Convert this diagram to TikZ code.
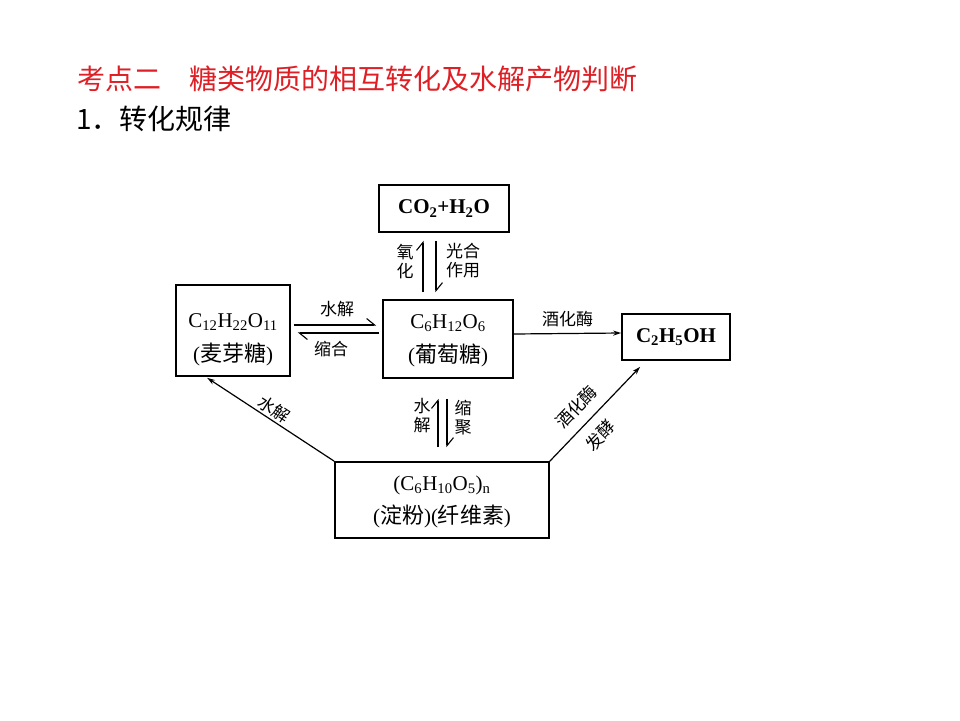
\documentclass[tikz,border=0pt]{standalone}
\usepackage{fontspec}
\setmainfont{Liberation Serif}
\newfontfamily\cjk{Noto Sans CJK SC}
\usetikzlibrary{arrows.meta,calc}
\definecolor{titlered}{RGB}{222,32,38}
\newcommand{\bigcjk}[1]{{\cjk\fontsize{22}{30}\selectfont #1}}
\newcommand{\lowtext}[2]{\raisebox{#1}[\height][\depth]{\begin{tabular}{@{}c@{}}#2\end{tabular}}}
\begin{document}
\begin{tikzpicture}[x=1pt,y=-1pt,
  box/.style={draw, line width=1.7pt, inner sep=0pt, align=center, font=\fontsize{21}{31}\selectfont},
  lab/.style={font=\cjk\fontsize{17}{19}\selectfont, inner sep=1pt, align=center},
  harp/.style={line width=1.3pt, -{Straight Barb[harpoon,length=8pt,width=13pt,line width=1.1pt]}},
  conn/.style={line width=1.2pt, -{Stealth[length=8pt,width=5pt]}},
  head/.style={font=\cjk\fontsize{28}{30}\selectfont, inner sep=0pt, anchor=west}
]
\useasboundingbox (0,0) rectangle (960,720);

\node[head, text=titlered] (title) at (77,79) {考点二　糖类物质的相互转化及水解产物判断};
\node[head] (sub) at (76,119) {1．转化规律};

\node[box, minimum width=130pt, minimum height=47pt] (co2) at (444,208.5)
  {\textbf{CO\textsubscript{2}+H\textsubscript{2}O}};
\node[box, minimum width=114pt, minimum height=91pt] (malt) at (233,330.5)
  {\lowtext{-8pt}{C\textsubscript{12}H\textsubscript{22}O\textsubscript{11}\\[3pt](\bigcjk{麦芽糖})}};
\node[box, minimum width=130pt, minimum height=78pt] (gluc) at (448,339)
  {\lowtext{0pt}{C\textsubscript{6}H\textsubscript{12}O\textsubscript{6}\\[3pt](\bigcjk{葡萄糖})}};
\node[box, minimum width=108pt, minimum height=46pt] (eth) at (676,337)
  {\textbf{C\textsubscript{2}H\textsubscript{5}OH}};
\node[box, minimum width=214pt, minimum height=76pt] (starch) at (442,500)
  {\lowtext{-1pt}{(C\textsubscript{6}H\textsubscript{10}O\textsubscript{5})\textsubscript{n}\\[2pt](\bigcjk{淀粉})(\bigcjk{纤维素})}};

% CO2 <-> glucose
\draw[harp] ($(gluc.north)+(-25,-7)$) -- ($(co2.south)+(-21,8)$);
\draw[harp] ($(co2.south)+(-8,8)$) -- ($(gluc.north)+(-12,-7)$);
\node[lab] (l1) at (405,262) {氧\\化};
\node[lab] (l2) at (463,261) {光合\\作用};

% maltose <-> glucose
\draw[harp] ($(malt.east)+(3,-5.5)$) -- ($(gluc.west)+(-6,-14)$);
\draw[harp] ($(gluc.west)+(-3,-6)$) -- ($(malt.east)+(7,2.5)$);
\node[lab] (l3) at (337,309) {水解};
\node[lab] (l4) at (331,349) {缩合};

% glucose <-> starch
\draw[harp] ($(starch.north)+(-4,-14)$) -- ($(gluc.south)+(-10,20)$);
\draw[harp] ($(gluc.south)+(-1,20)$) -- ($(starch.north)+(5,-14)$);
\node[lab] (l5) at (422,416) {水\\解};
\node[lab] (l6) at (463,418) {缩\\聚};

% glucose -> ethanol
\draw[conn] ($(gluc.east)+(0,-5)$) -- ($(eth.west)+(0,-4)$)
  node[lab, midway, above=5pt] (l7) {酒化酶};

% starch -> maltose
\coordinate (mp) at ($(malt.south west)+(32,1)$);
\draw[line width=1.2pt, {Stealth[length=8pt,width=5pt]}-] (mp) -- (starch.north west)
  node[lab, pos=0.48, sloped, above=1pt] (l8) {水解};

% starch -> ethanol
\coordinate (ep) at ($(eth.south west)+(19,6)$);
\draw[conn] (starch.north east) -- (ep)
  node[lab, pos=0.44, sloped, above=9pt] (l9) {酒化酶}
  node[lab, pos=0.41, sloped, below=9pt] (l10) {发酵};
\end{tikzpicture}
\end{document}
